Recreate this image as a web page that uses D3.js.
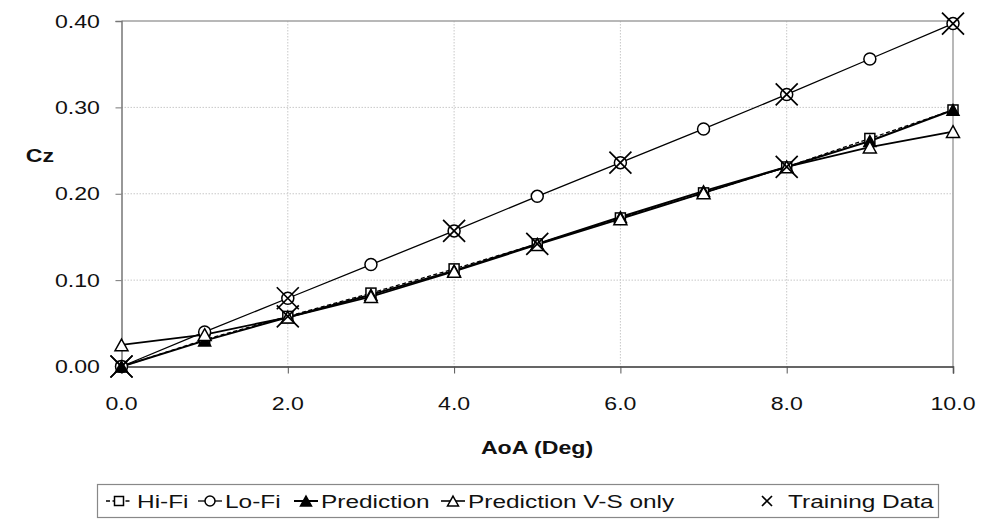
<!DOCTYPE html>
<html>
<head>
<meta charset="utf-8">
<script src="https://cdn.jsdelivr.net/npm/d3@7"></script>
<style>
  html, body { margin: 0; padding: 0; background: #fff; }
  svg { display: block; font-family: "Liberation Sans", Arial, sans-serif; }
</style>
</head>
<body>
<svg id="chart" width="982" height="523"></svg>
<script>
// Angle of attack (deg)
const aoa = [0, 1, 2, 3, 4, 5, 6, 7, 8, 9, 10];

// Cz per series
const hiFi        = [0.000, 0.031, 0.058, 0.085, 0.113, 0.142, 0.172, 0.201, 0.231, 0.264, 0.297];
const loFi        = [0.000, 0.040, 0.079, 0.118, 0.157, 0.197, 0.236, 0.275, 0.315, 0.356, 0.397];
const prediction  = [0.000, 0.030, 0.057, 0.083, 0.111, 0.142, 0.173, 0.203, 0.231, 0.261, 0.297];
const predVS      = [0.025, 0.037, 0.057, 0.081, 0.110, 0.141, 0.171, 0.201, 0.231, 0.254, 0.272];

// Training samples (x, Cz)
const trainX = [0, 2, 4, 6, 8, 10, 0, 2, 5, 8];
const trainY = [0.000, 0.079, 0.157, 0.236, 0.315, 0.397, 0.000, 0.058, 0.142, 0.231];

const xTicks = [0, 2, 4, 6, 8, 10];
const yTicks = [0, 0.1, 0.2, 0.3, 0.4];

const svg = d3.select("#chart");
const pLeft = 121.5, pRight = 953, pTop = 21, pBottom = 366.5;
const FS = 18.5;      // font size
const SX = 1.25;      // horizontal text stretch (axes)
const SX_LEG = 1.32;  // horizontal text stretch (legend)

const x = d3.scaleLinear().domain([0, 10]).range([pLeft, pRight]);
const y = d3.scaleLinear().domain([0, 0.4]).range([pBottom, pTop]);

// text placed at (tx, ty) and widened horizontally
function label(parent, tx, ty, str, anchor, bold, sx) {
  return parent.append("text")
    .attr("transform", `translate(${tx},${ty}) scale(${sx || SX},1)`)
    .attr("text-anchor", anchor || "start")
    .attr("font-size", FS).attr("font-weight", bold ? "bold" : "normal")
    .attr("fill", "#111").text(str);
}

// gridlines
const grid = svg.append("g");
grid.selectAll("line.v").data([2, 4, 6, 8]).join("line")
  .attr("x1", d => x(d)).attr("x2", d => x(d))
  .attr("y1", pTop).attr("y2", pBottom)
  .attr("stroke", "#c8c8c8").attr("stroke-width", 1).attr("stroke-dasharray", "1.5,1.5");
grid.selectAll("line.h").data([0.1, 0.2, 0.3]).join("line")
  .attr("x1", pLeft).attr("x2", pRight)
  .attr("y1", d => y(d)).attr("y2", d => y(d))
  .attr("stroke", "#c8c8c8").attr("stroke-width", 1).attr("stroke-dasharray", "1.5,1.5");

// plot frame (top and right)
svg.append("line").attr("x1", pLeft).attr("x2", pRight).attr("y1", y(0.4)).attr("y2", y(0.4))
  .attr("stroke", "#a0a0a0").attr("stroke-width", 1.5);
svg.append("line").attr("x1", pRight).attr("x2", pRight).attr("y1", pTop).attr("y2", pBottom)
  .attr("stroke", "#a0a0a0").attr("stroke-width", 1.5);

// axes (tick labels drawn separately so they can be widened)
const yAxis = svg.append("g").attr("transform", `translate(${pLeft},0)`)
  .call(d3.axisLeft(y).tickValues(yTicks).tickFormat("").tickSize(6));
yAxis.select(".domain").attr("stroke", "#777").attr("stroke-width", 1.5);
yAxis.selectAll(".tick line").attr("stroke", "#777");
const yfmt = d3.format(".2f");
yTicks.forEach(t => label(svg, 100, y(t) + 6.5, yfmt(t), "end"));

const xAxis = svg.append("g").attr("transform", `translate(0,${pBottom})`)
  .call(d3.axisBottom(x).tickValues(xTicks).tickFormat("").tickSize(7));
xAxis.select(".domain").attr("stroke", "#333").attr("stroke-width", 1.5);
xAxis.selectAll(".tick line").attr("stroke", "#555");
const xfmt = d3.format(".1f");
xTicks.forEach(t => label(svg, x(t), 410, xfmt(t), "middle"));

// axis titles
label(svg, 40, 162, "Cz", "middle", true);
label(svg, 537, 454, "AoA (Deg)", "middle", true);

// marker drawers
function square(g, cx, cy, s) {
  g.append("rect").attr("x", cx - s / 2).attr("y", cy - s / 2).attr("width", s).attr("height", s)
    .attr("fill", "#fff").attr("stroke", "#000").attr("stroke-width", 1.5);
}
function circle(g, cx, cy, r) {
  g.append("circle").attr("cx", cx).attr("cy", cy).attr("r", r)
    .attr("fill", "#fff").attr("stroke", "#000").attr("stroke-width", 1.5);
}
function triangle(g, cx, cy, s, filled) {
  const h = s * 0.9;
  g.append("path")
    .attr("d", `M${cx},${cy - h / 2}L${cx + s / 2},${cy + h / 2}L${cx - s / 2},${cy + h / 2}Z`)
    .attr("fill", filled ? "#000" : "#fff").attr("stroke", "#000").attr("stroke-width", 1.5);
}
function cross(g, cx, cy, s) {
  const h = s / 2;
  g.append("path").attr("d", `M${cx - h},${cy - h}L${cx + h},${cy + h}M${cx - h},${cy + h}L${cx + h},${cy - h}`)
    .attr("stroke", "#000").attr("stroke-width", 1.7).attr("fill", "none");
}

const series = [
  { vals: hiFi, width: 1.3, dash: "4,2.5", mark: (g, cx, cy) => square(g, cx, cy, 10) },
  { vals: loFi, width: 1.3, dash: null, mark: (g, cx, cy) => circle(g, cx, cy, 6) },
  { vals: prediction, width: 2, dash: null, mark: (g, cx, cy) => triangle(g, cx, cy, 12, true) },
  { vals: predVS, width: 1.8, dash: null, mark: (g, cx, cy) => triangle(g, cx, cy, 13, false) }
];

const line = d3.line().x(d => x(d[0])).y(d => y(d[1]));
const plot = svg.append("g");
series.forEach(s => {
  plot.append("path").datum(aoa.map((a, i) => [a, s.vals[i]]))
    .attr("d", line).attr("fill", "none").attr("stroke", "#000")
    .attr("stroke-width", s.width).attr("stroke-dasharray", s.dash);
});
series.forEach(s => {
  const g = plot.append("g");
  aoa.forEach((a, i) => s.mark(g, x(a), y(s.vals[i])));
});
const tg = plot.append("g");
trainX.forEach((a, i) => cross(tg, x(a), y(trainY[i]), 22));

// legend
const lg = svg.append("g");
lg.append("rect").attr("x", 97.5).attr("y", 484.5).attr("width", 841).attr("height", 33)
  .attr("fill", "#fff").attr("stroke", "#888").attr("stroke-width", 1.2);
const ly = 501;
const legendItems = [
  { label: "Hi-Fi", x0: 106, x1: 132, tx: 137, dash: "4,2.5", w: 1.3, mark: (g, cx) => square(g, cx, ly, 9) },
  { label: "Lo-Fi", x0: 198, x1: 222, tx: 225, dash: null, w: 1.3, mark: (g, cx) => circle(g, cx, ly, 5) },
  { label: "Prediction", x0: 294, x1: 318, tx: 321, dash: null, w: 2, mark: (g, cx) => triangle(g, cx, ly, 11, true) },
  { label: "Prediction V-S only", x0: 441, x1: 465, tx: 468, dash: null, w: 1.6, mark: (g, cx) => triangle(g, cx, ly, 11, false) },
  { label: "Training Data", x0: null, x1: null, cx: 767, tx: 788, mark: (g, cx) => cross(g, cx, ly, 10) }
];
legendItems.forEach(it => {
  if (it.x0 !== null) {
    lg.append("line").attr("x1", it.x0).attr("x2", it.x1).attr("y1", ly).attr("y2", ly)
      .attr("stroke", "#000").attr("stroke-width", it.w).attr("stroke-dasharray", it.dash);
    it.mark(lg, (it.x0 + it.x1) / 2);
  } else {
    it.mark(lg, it.cx);
  }
  label(lg, it.tx, ly + 6.5, it.label, "start", false, SX_LEG);
});
</script>
</body>
</html>
